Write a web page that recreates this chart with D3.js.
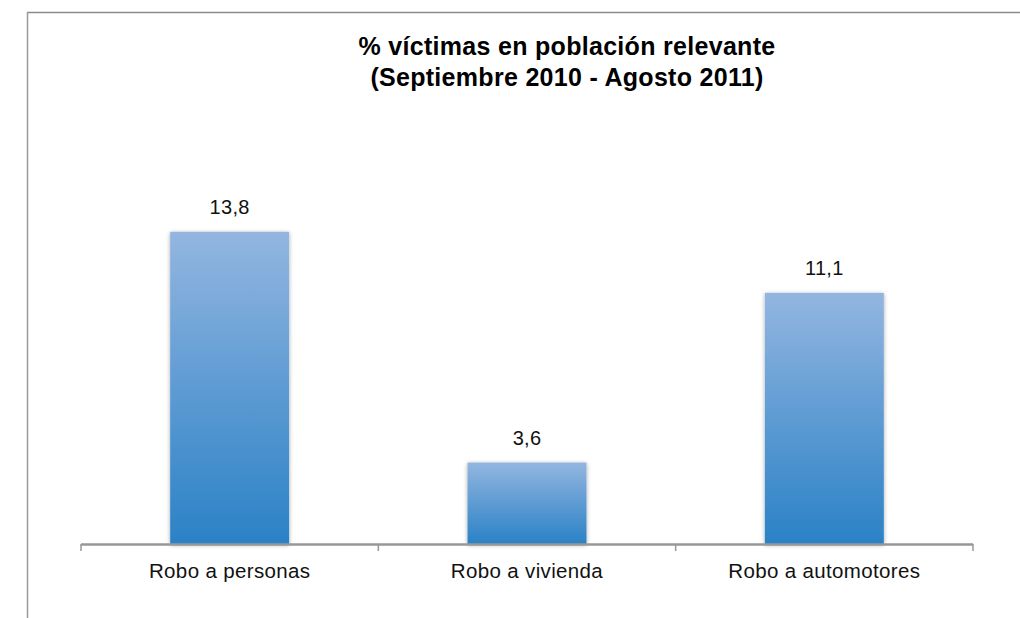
<!DOCTYPE html>
<html>
<head>
<meta charset="utf-8">
<script src="https://cdn.jsdelivr.net/npm/d3@7/dist/d3.min.js"></script>
<style>
  html, body { margin: 0; padding: 0; background: #fff; }
  svg { display: block; font-family: "Liberation Sans", Arial, Helvetica, sans-serif; }
</style>
</head>
<body>
<svg id="chart" width="1020" height="618"></svg>
<script>
const categories = ["Robo a personas", "Robo a vivienda", "Robo a automotores"];
const values = [13.8, 3.6, 11.1];
const valueLabels = ["13,8", "3,6", "11,1"];
const titleLines = ["% víctimas en población relevante", "(Septiembre 2010 - Agosto 2011)"];

const svg = d3.select("#chart");
const W = 1020, H = 618;
const margin = { left: 81, right: 47, top: 182, bottom: 74 };
const x0 = margin.left, x1 = W - margin.right;
const yBase = H - margin.bottom;

// Frame (cropped at right/bottom)
svg.append("line").attr("x1", 27).attr("x2", W).attr("y1", 12.5).attr("y2", 12.5)
  .attr("stroke", "#8a8a8a").attr("stroke-width", 1.5);
svg.append("line").attr("x1", 27.5).attr("x2", 27.5).attr("y1", 12).attr("y2", H)
  .attr("stroke", "#9a9a9a").attr("stroke-width", 1.5);

const defs = svg.append("defs");
const grad = defs.append("linearGradient").attr("id", "barGrad")
  .attr("x1", 0).attr("y1", 0).attr("x2", 0).attr("y2", 1);
grad.append("stop").attr("offset", "0%").attr("stop-color", "#93b6e0");
grad.append("stop").attr("offset", "50%").attr("stop-color", "#5e9bd3");
grad.append("stop").attr("offset", "100%").attr("stop-color", "#2a82c6");

const filt = defs.append("filter").attr("id", "shadow")
  .attr("x", "-20%").attr("y", "-10%").attr("width", "140%").attr("height", "120%");
filt.append("feDropShadow").attr("dx", 0).attr("dy", 1).attr("stdDeviation", 2.2)
  .attr("flood-color", "#000").attr("flood-opacity", 0.35);

const x = d3.scaleBand().domain(categories).range([x0, x1])
  .paddingInner(0.6).paddingOuter(0.3);
const y = d3.scaleLinear().domain([0, 16]).range([yBase, margin.top]);

// Bars
const data = categories.map((c, i) => ({ c, v: values[i], label: valueLabels[i] }));
svg.append("g").selectAll("rect").data(data).join("rect")
  .attr("x", d => x(d.c))
  .attr("y", d => y(d.v))
  .attr("width", x.bandwidth())
  .attr("height", d => yBase - y(d.v))
  .attr("fill", "url(#barGrad)")
  .attr("filter", "url(#shadow)");

// Axis
const step = (x1 - x0) / categories.length;
const tickPos = d3.range(categories.length + 1).map(i => x0 + i * step);
svg.append("line").attr("x1", x0).attr("x2", x1).attr("y1", yBase + 0.5).attr("y2", yBase + 0.5)
  .attr("stroke", "#979797").attr("stroke-width", 2.5);
svg.append("g").selectAll("line").data(tickPos).join("line")
  .attr("x1", d => d).attr("x2", d => d)
  .attr("y1", yBase).attr("y2", yBase + 7)
  .attr("stroke", "#979797").attr("stroke-width", 1.5);

// Category labels
svg.append("g").selectAll("text").data(categories).join("text")
  .attr("x", d => x(d) + x.bandwidth() / 2)
  .attr("y", yBase + 34)
  .attr("text-anchor", "middle")
  .attr("font-size", 20.5)
  .attr("letter-spacing", 0.35)
  .attr("fill", "#111")
  .text(d => d);

// Value labels
svg.append("g").selectAll("text").data(data).join("text")
  .attr("x", d => x(d.c) + x.bandwidth() / 2)
  .attr("y", d => y(d.v) - 18)
  .attr("text-anchor", "middle")
  .attr("font-size", 20)
  .attr("letter-spacing", 0.3)
  .attr("fill", "#111")
  .text(d => d.label);

// Title
svg.append("g").selectAll("text").data(titleLines).join("text")
  .attr("x", 567)
  .attr("y", (d, i) => 55 + i * 31)
  .attr("text-anchor", "middle")
  .attr("font-size", 25)
  .attr("letter-spacing", 0.3)
  .attr("font-weight", "bold")
  .attr("fill", "#000")
  .text(d => d);
</script>
</body>
</html>
